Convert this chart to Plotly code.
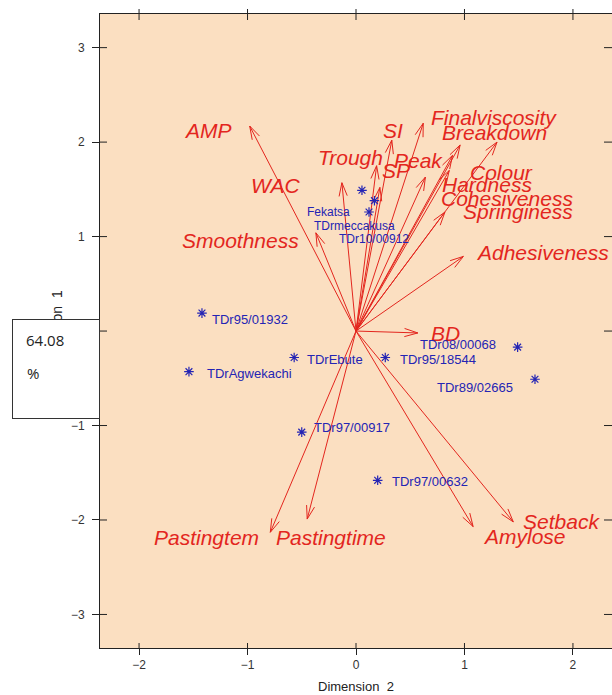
import math
import plotly.graph_objects as go

# ---- data: variable loadings (arrow tips) ----
var_names = ["AMP", "WAC", "Smoothness", "Trough", "SI", "SP", "Peak",
             "Finalviscosity", "Breakdown", "Colour", "Hardness", "Cohesiveness",
             "Springiness", "Adhesiveness", "BD", "Pastingtem", "Pastingtime",
             "Amylose", "Setback"]
var_dim2 = [-0.98, -0.13, -0.37, 0.19, 0.33, 0.22, 0.64, 0.62, 0.96, 1.30,
            0.89, 0.86, 0.82, 0.99, 0.57, -0.79, -0.45, 1.08, 1.45]
var_dim1 = [2.17, 1.57, 1.04, 1.75, 2.02, 1.52, 1.63, 2.20, 1.97, 2.00,
            1.86, 1.70, 1.26, 0.79, -0.02, -2.13, -1.99, -2.07, -2.02]

# ---- data: genotype scores ----
geno_names = ["", "", "Fekatsa", "TDr95/01932", "TDrEbute", "TDr95/18544",
              "TDrAgwekachi", "TDr08/00068", "TDr89/02665", "TDr97/00917", "TDr97/00632"]
geno_dim2 = [0.055, 0.17, 0.12, -1.42, -0.57, 0.27, -1.54, 1.49, 1.65, -0.50, 0.20]
geno_dim1 = [1.49, 1.38, 1.26, 0.19, -0.28, -0.28, -0.43, -0.17, -0.51, -1.07, -1.58]

# extra genotype names printed near the cluster of points at top
extra_names = ["TDrmeccakusa", "TDr10/00912"]

x_ticks = [-2, -1, 0, 1, 2]
y_ticks = [-3, -2, -1, 0, 1, 2, 3]

# ---- layout geometry (page pixels) ----
W, H = 612, 695
PL, PT, PR, PB = 100, 14, 612, 648          # plot area in page pixels
ML, MT, MR, MB = PL, PT, W - PR, H - PB
XR = [-2.36, 2.36]
YR = [-3.355, 3.356]
PW, PH = PR - PL, PB - PT
SX = PW / (XR[1] - XR[0])
SY = PH / (YR[1] - YR[0])

def px2x(p):
    return XR[0] + (p - PL) / SX

def px2y(p):
    return YR[1] - (p - PT) / SY

def pxx(p):
    return (p - PL) / PW

def pxy(p):
    return (PB - p) / PH

RED = "#e3261e"
BLUE = "#2424b4"

# arrows: shafts + open V heads
ax_x, ax_y = [], []
hl, ang = 14, math.radians(17)
for x, y in zip(var_dim2, var_dim1):
    ax_x += [0, x, None]
    ax_y += [0, y, None]
    px, py = x * SX, y * SY
    L = math.hypot(px, py)
    ux, uy = -px / L, -py / L
    for s in (1, -1):
        c, sn = math.cos(s * ang), math.sin(s * ang)
        bx = ux * c - uy * sn
        by = ux * sn + uy * c
        ax_x += [x, (px + hl * bx) / SX, None]
        ax_y += [y, (py + hl * by) / SY, None]

fig = go.Figure()
fig.add_trace(go.Scatter(x=ax_x, y=ax_y, mode="lines",
                         line=dict(color=RED, width=1), hoverinfo="skip",
                         showlegend=False))
fig.add_trace(go.Scatter(x=geno_dim2, y=geno_dim1, mode="markers",
                         marker=dict(symbol="asterisk-open", size=8, color=BLUE,
                                     line=dict(color=BLUE, width=1.2)),
                         showlegend=False))

# variable label positions (page-pixel centres)
var_label_px = {
    "AMP": (208, 130), "WAC": (275, 185), "Smoothness": (240, 240),
    "Trough": (350, 157), "SI": (393, 130), "SP": (396, 170), "Peak": (418, 160),
    "Finalviscosity": (494, 117), "Breakdown": (494, 132), "Colour": (501, 172),
    "Hardness": (487, 184), "Cohesiveness": (507, 198), "Springiness": (518, 211),
    "Adhesiveness": (542, 252), "BD": (445, 333), "Pastingtem": (206, 537),
    "Pastingtime": (331, 537), "Amylose": (524, 536), "Setback": (561, 521),
}
for name in var_names:
    cx, cy = var_label_px[name]
    fig.add_annotation(x=px2x(cx), y=px2y(cy), text=name, showarrow=False,
                       xanchor="center", yanchor="middle",
                       font=dict(family="Liberation Sans", size=21, color=RED,
                                 style="italic"))

geno_label_px = {
    "Fekatsa": (305, 212, 12), "TDr95/01932": (210, 319, 13),
    "TDrEbute": (305, 359, 13), "TDr95/18544": (398, 359, 13),
    "TDrAgwekachi": (205, 373, 13), "TDr08/00068": (418, 344, 13),
    "TDr89/02665": (435, 387, 13), "TDr97/00917": (312, 427, 13),
    "TDr97/00632": (390, 481, 13), "TDrmeccakusa": (312, 226, 12),
    "TDr10/00912": (337, 239, 12),
}
for name in [n for n in geno_names if n] + extra_names:
    lx, ly, fs = geno_label_px[name]
    fig.add_annotation(x=px2x(lx), y=px2y(ly), text=name, showarrow=False,
                       xanchor="left", yanchor="middle",
                       font=dict(family="Liberation Sans", size=fs, color=BLUE))

# axis titles
fig.add_annotation(xref="paper", yref="paper", x=pxx(356), y=pxy(686),
                   xanchor="center", yanchor="middle",
                   text="Dimension  2", showarrow=False,
                   font=dict(family="Liberation Sans", size=13, color="#222"))
fig.add_annotation(xref="paper", yref="paper", x=pxx(57), y=pxy(331),
                   xanchor="center", yanchor="middle",
                   text="Dimension  1", textangle=-90, showarrow=False,
                   font=dict(family="Liberation Sans", size=14, color="#222"))

# white inset box with percentage
fig.add_annotation(xref="paper", yref="paper", x=pxx(56), y=pxy(369),
                   xanchor="center", yanchor="middle",
                   text=" ", showarrow=False,
                   width=86, height=98, bgcolor="white", bordercolor="#333",
                   borderwidth=1, borderpad=0)
fig.add_annotation(xref="paper", yref="paper", x=pxx(24), y=pxy(340),
                   xanchor="left", yanchor="middle", text="64.08", showarrow=False,
                   font=dict(family="Open Sans", size=15, color="#222"))
fig.add_annotation(xref="paper", yref="paper", x=pxx(25), y=pxy(373),
                   xanchor="left", yanchor="middle", text="%", showarrow=False,
                   font=dict(family="Open Sans", size=15, color="#222"))

# crossing / mirrored ticks
tk = dict(color="#222", width=1)
for v in x_ticks:
    fig.add_shape(type="line", xref="x", yref="paper", ysizemode="pixel",
                  yanchor=0, x0=v, x1=v, y0=0, y1=5, line=tk)
    fig.add_shape(type="line", xref="x", yref="paper", ysizemode="pixel",
                  yanchor=1, x0=v, x1=v, y0=-6, y1=5, line=tk)
for v in y_ticks:
    fig.add_shape(type="line", xref="paper", yref="y", xsizemode="pixel",
                  xanchor=0, x0=0, x1=7, y0=v, y1=v, line=tk)
    fig.add_shape(type="line", xref="paper", yref="y", xsizemode="pixel",
                  xanchor=1, x0=-8, x1=0, y0=v, y1=v, line=tk)

axis_font = dict(family="Liberation Sans", size=12, color="#333")
fig.update_layout(
    width=W, height=H, margin=dict(l=ML, r=MR, t=MT, b=MB),
    paper_bgcolor="white", plot_bgcolor="#fbdfc1",
    xaxis=dict(range=XR, tickmode="array", tickvals=x_ticks,
               showgrid=False, zeroline=False, showline=True, mirror=True,
               linecolor="#222", linewidth=1, ticks="outside", ticklen=6,
               tickcolor="#222", tickfont=axis_font),
    yaxis=dict(range=YR, tickmode="array", tickvals=y_ticks,
               showgrid=False, zeroline=False, showline=True, mirror=False,
               linecolor="#222", linewidth=1, ticks="outside", ticklen=7,
               tickcolor="#222", tickfont=axis_font, ticklabelstandoff=5),
)

fig.write_html("out.html",
               config={"displayModeBar": False},
               post_script="document.body.style.margin='0';"
                           "document.body.style.overflow='hidden';")
